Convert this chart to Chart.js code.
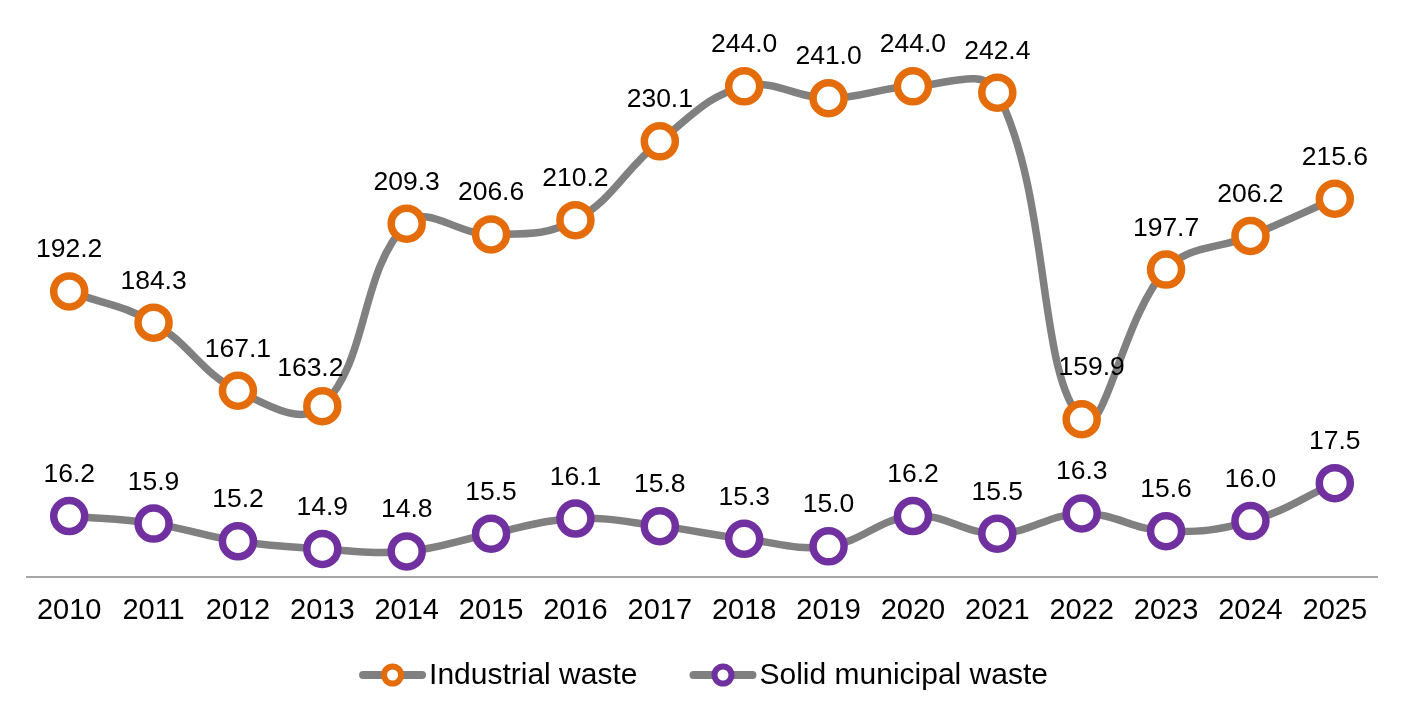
<!DOCTYPE html>
<html>
<head>
<meta charset="utf-8">
<script src="https://cdn.jsdelivr.net/npm/chart.js@4.4.0/dist/chart.umd.min.js"></script>
<style>
  html, body { margin: 0; padding: 0; background: #fff; }
  #wrap { width: 1407px; height: 719px; }
</style>
</head>
<body>
<div id="wrap"><canvas id="myChart" width="1407" height="719"></canvas></div>
<script>
// data
const years = ["2010", "2011", "2012", "2013", "2014", "2015", "2016", "2017",
  "2018", "2019", "2020", "2021", "2022", "2023", "2024", "2025"];
const industrialWaste = [192.2, 184.3, 167.1, 163.2, 209.3, 206.6, 210.2, 230.1,
  244.0, 241.0, 244.0, 242.4, 159.9, 197.7, 206.2, 215.6];
const municipalWaste = [16.2, 15.9, 15.2, 14.9, 14.8, 15.5, 16.1, 15.8,
  15.3, 15.0, 16.2, 15.5, 16.3, 15.6, 16.0, 17.5];
const seriesNames = ["Industrial waste", "Solid municipal waste"];

const FONT = "'Liberation Sans', Arial, sans-serif";
const LINE_GRAY = "#808080";
const ORANGE = "#E46C0A";
const PURPLE = "#7030A0";

// a couple of labels were moved by hand in the source to dodge the line
// key: "dataset-index", value: [dx, dy]
const labelNudge = { "0-3": [-12, 4], "0-12": [10, -10] };

// value labels above each point
const valueLabels = {
  id: "valueLabels",
  afterDatasetsDraw(chart) {
    const ctx = chart.ctx;
    ctx.save();
    ctx.font = "26.5px " + FONT;
    ctx.fillStyle = "#000";
    ctx.textAlign = "center";
    ctx.textBaseline = "alphabetic";
    chart.data.datasets.forEach((ds, i) => {
      const meta = chart.getDatasetMeta(i);
      meta.data.forEach((pt, j) => {
        const n = labelNudge[i + "-" + j] || [0, 0];
        ctx.fillText(ds.data[j].toFixed(1), pt.x + n[0], pt.y - 34 + n[1]);
      });
    });
    ctx.restore();
  },
};

// legend: gray line with ring marker, like the source
const lineLegend = {
  id: "lineLegend",
  afterDraw(chart) {
    const ctx = chart.ctx;
    const y = 675;
    const lineLen = 67;
    const gap = 52;
    ctx.save();
    ctx.font = "30px " + FONT;
    const items = chart.data.datasets.map((ds) => ({
      text: ds.label,
      color: ds.pointBorderColor,
      w: lineLen + 3 + ctx.measureText(ds.label).width,
    }));
    const total = items.reduce((s, it) => s + it.w, 0) + gap * (items.length - 1);
    let x = (chart.width - total) / 2;
    items.forEach((it) => {
      ctx.strokeStyle = LINE_GRAY;
      ctx.lineWidth = 8;
      ctx.lineCap = "round";
      ctx.beginPath();
      ctx.moveTo(x + 4, y);
      ctx.lineTo(x + lineLen - 4, y);
      ctx.stroke();
      ctx.beginPath();
      ctx.arc(x + lineLen / 2, y, 8.5, 0, Math.PI * 2);
      ctx.fillStyle = "#fff";
      ctx.fill();
      ctx.lineWidth = 6;
      ctx.strokeStyle = it.color;
      ctx.stroke();
      ctx.fillStyle = "#000";
      ctx.textAlign = "left";
      ctx.textBaseline = "middle";
      ctx.fillText(it.text, x + lineLen + 3, y + 1);
      x += it.w + gap;
    });
    ctx.restore();
  },
};

const ctx = document.getElementById("myChart");

const chart = new Chart(ctx, {
  type: "line",
  data: {
    labels: years,
    datasets: [
      {
        label: seriesNames[0],
        data: industrialWaste,
        yAxisID: "yInd",
        borderColor: LINE_GRAY,
        borderWidth: 7.5,
        tension: 0.4,
        pointRadius: 15.5,
        pointBorderWidth: 7.5,
        pointBackgroundColor: "#fff",
        pointBorderColor: ORANGE,
      },
      {
        label: seriesNames[1],
        data: municipalWaste,
        yAxisID: "yMun",
        borderColor: LINE_GRAY,
        borderWidth: 7.5,
        tension: 0.4,
        pointRadius: 15.5,
        pointBorderWidth: 7.5,
        pointBackgroundColor: "#fff",
        pointBorderColor: PURPLE,
      },
    ],
  },
  options: {
    responsive: false,
    animation: false,
    devicePixelRatio: 1,
    layout: { padding: { left: 27, right: 30, top: 21, bottom: 75 } },
    plugins: {
      legend: { display: false },
      tooltip: { enabled: false },
    },
    scales: {
      x: {
        offset: true,
        grid: { display: false, drawTicks: false },
        border: { display: true, color: "#A6A6A6", width: 2 },
        ticks: { color: "#000", font: { size: 29, family: FONT }, padding: 16, maxRotation: 0 },
      },
      yInd: { display: false, min: 120, max: 260 },
      yMun: { display: false, min: 13.78, max: 35.7 },
    },
  },
  plugins: [valueLabels, lineLegend],
});
</script>
</body>
</html>
